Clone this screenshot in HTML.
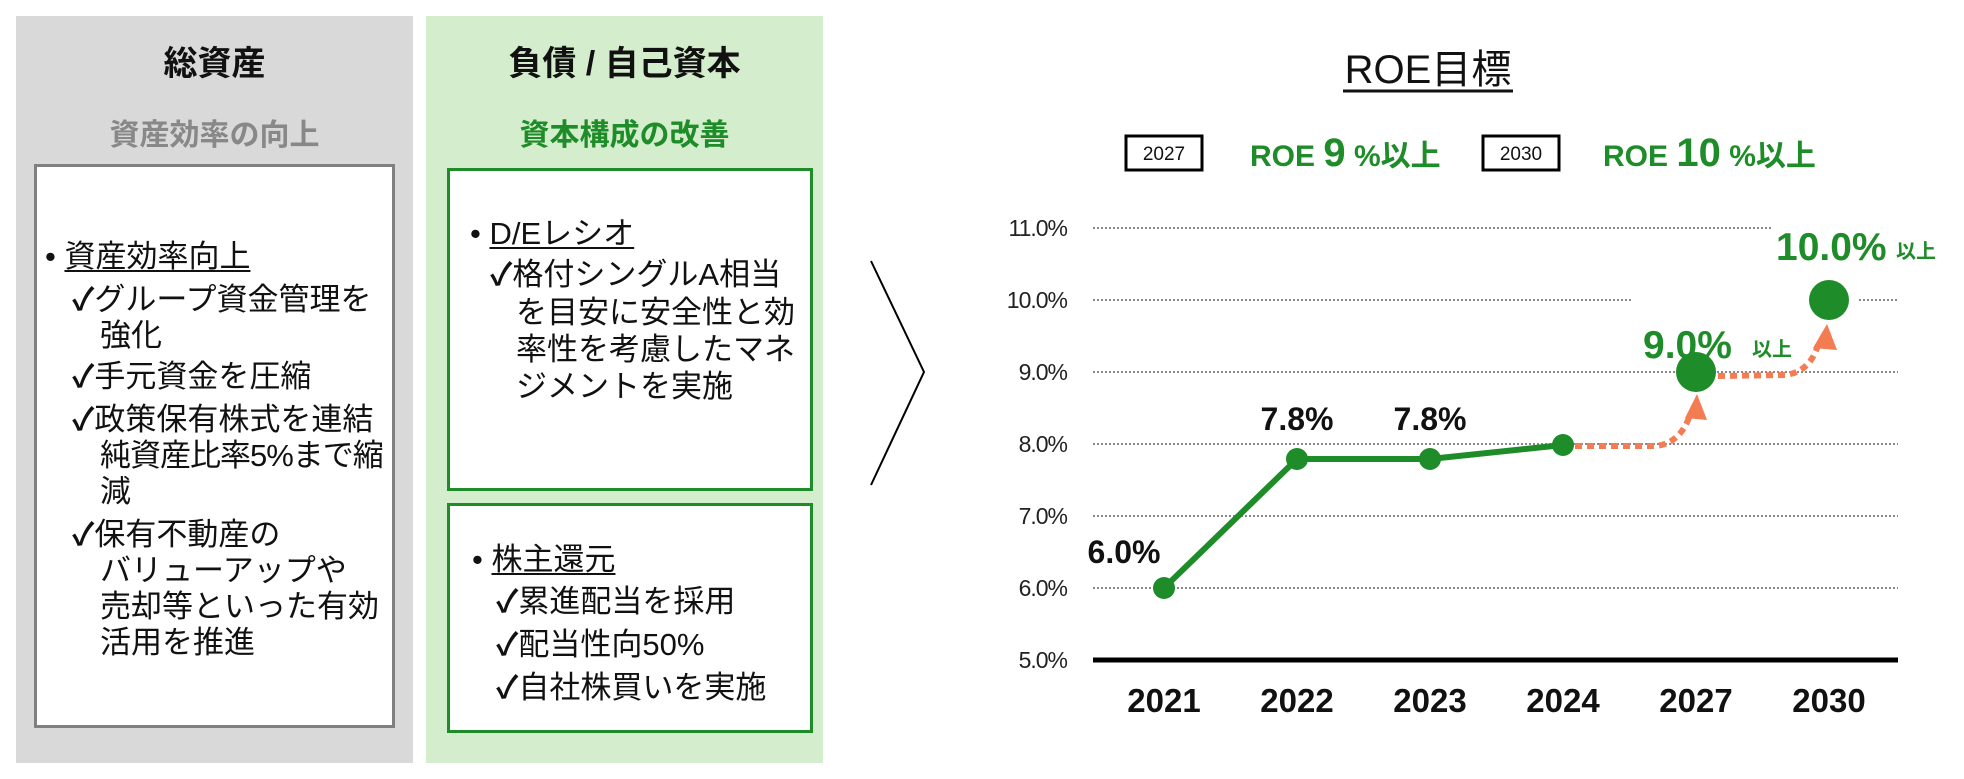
<!DOCTYPE html>
<html><head><meta charset="utf-8">
<style>
body{margin:0;width:1964px;height:779px;background:#fff;position:relative;overflow:hidden;font-family:"Liberation Sans","Noto Sans CJK JP",sans-serif;}
.a{position:absolute;white-space:nowrap;}
.t{font-size:31px;line-height:36px;color:#111;}
u{text-decoration:underline;text-underline-offset:3px;text-decoration-thickness:2px;}
.ck{font-weight:bold;}
</style></head><body>
<div class="a" style="left:16px;top:16px;width:397px;height:747px;background:#d9d9d9"></div>
<div class="a" style="left:426px;top:16px;width:397px;height:747px;background:#d4edcc"></div>
<div class="a" style="left:16px;top:36px;width:397px;text-align:center;font-size:34px;font-weight:bold;color:#111">総資産</div>
<div class="a" style="left:16px;top:110px;width:397px;text-align:center;font-size:30px;font-weight:bold;color:#888">資産効率の向上</div>
<div class="a" style="left:426px;top:36px;width:397px;text-align:center;font-size:34px;font-weight:bold;color:#111">負債 / 自己資本</div>
<div class="a" style="left:426px;top:110px;width:397px;text-align:center;font-size:30px;font-weight:bold;color:#1e8c28">資本構成の改善</div>
<div class="a" style="left:34px;top:164px;width:355px;height:558px;background:#fff;border:3px solid #808080"></div>
<div class="a" style="left:447px;top:168px;width:360px;height:317px;background:#fff;border:3px solid #1e8c28"></div>
<div class="a" style="left:447px;top:503px;width:360px;height:224px;background:#fff;border:3px solid #1e8c28"></div>

<div class="a t" style="left:45px;top:239px">• <u>資産効率向上</u></div>
<div class="a t" style="left:72px;top:282px"><span class="ck">✓</span>グループ資金管理を</div>
<div class="a t" style="left:100px;top:318px">強化</div>
<div class="a t" style="left:72px;top:359px"><span class="ck">✓</span>手元資金を圧縮</div>
<div class="a t" style="left:72px;top:402px"><span class="ck">✓</span>政策保有株式を連結</div>
<div class="a t" style="left:100px;top:438px;letter-spacing:-1px">純資産比率5%まで縮</div>
<div class="a t" style="left:100px;top:474px">減</div>
<div class="a t" style="left:72px;top:517px"><span class="ck">✓</span>保有不動産の</div>
<div class="a t" style="left:100px;top:553px">バリューアップや<br>売却等といった有効<br>活用を推進</div>

<div class="a t" style="left:470px;top:216px">• <u>D/Eレシオ</u></div>
<div class="a t" style="left:490px;top:257px"><span class="ck">✓</span>格付シングルA相当</div>
<div class="a t" style="left:516px;top:294px;line-height:37px">を目安に安全性と効<br>率性を考慮したマネ<br>ジメントを実施</div>

<div class="a t" style="left:472px;top:542px">• <u>株主還元</u></div>
<div class="a t" style="left:496px;top:584px"><span class="ck">✓</span>累進配当を採用</div>
<div class="a t" style="left:496px;top:627px"><span class="ck">✓</span>配当性向50%</div>
<div class="a t" style="left:496px;top:670px"><span class="ck">✓</span>自社株買いを実施</div>

<svg class="a" style="left:0;top:0" width="1964" height="779">
<polyline points="871,261 924,372 871,485" fill="none" stroke="#000" stroke-width="2"/>
<g font-family="Liberation Sans, sans-serif" font-size="23" fill="#222" text-anchor="end" letter-spacing="-1">
<text x="1067" y="236">11.0%</text><text x="1067" y="308">10.0%</text><text x="1067" y="380">9.0%</text>
<text x="1067" y="452">8.0%</text><text x="1067" y="524">7.0%</text><text x="1067" y="596">6.0%</text><text x="1067" y="668">5.0%</text>
</g>
<g stroke="#888" stroke-width="2" stroke-dasharray="2 2">
<line x1="1093" y1="228" x2="1771" y2="228"/>
<line x1="1093" y1="300" x2="1633" y2="300"/><line x1="1859" y1="300" x2="1898" y2="300"/>
<line x1="1093" y1="372" x2="1898" y2="372"/>
<line x1="1093" y1="444" x2="1898" y2="444"/>
<line x1="1093" y1="516" x2="1898" y2="516"/>
<line x1="1093" y1="588" x2="1898" y2="588"/>
</g>
<line x1="1093" y1="660" x2="1898" y2="660" stroke="#000" stroke-width="5"/>
<g font-family="Liberation Sans, sans-serif" font-size="33" font-weight="bold" fill="#111" text-anchor="middle">
<text x="1164" y="712">2021</text><text x="1297" y="712">2022</text><text x="1430" y="712">2023</text>
<text x="1563" y="712">2024</text><text x="1696" y="712">2027</text><text x="1829" y="712">2030</text>
</g>
<g font-family="Liberation Sans, sans-serif" font-size="32" font-weight="bold" fill="#111" text-anchor="middle">
<text x="1124" y="563">6.0%</text><text x="1297" y="430">7.8%</text><text x="1430" y="430">7.8%</text>
</g>
<g fill="none" stroke="#f47c52" stroke-width="6" stroke-dasharray="7 5">
<path d="M1575,446 L1655,446 Q1680,444 1690,415"/>
<path d="M1718,376 L1785,375 Q1810,372 1818,345"/>
</g>
<polygon points="1685,418 1697,394 1707,420" fill="#f47c52"/>
<polygon points="1813,348 1827,324 1837,350" fill="#f47c52"/>
<polyline points="1164,588 1297,459 1430,459 1563,445" fill="none" stroke="#1e8c28" stroke-width="6"/>
<g fill="#1e8c28">
<circle cx="1164" cy="588" r="11"/><circle cx="1297" cy="459" r="11"/><circle cx="1430" cy="459" r="11"/><circle cx="1563" cy="445" r="11"/>
<circle cx="1696" cy="372" r="20"/><circle cx="1829" cy="300" r="20"/>
</g>
<g font-family="Liberation Sans, sans-serif" font-weight="bold" fill="#1e8c28">
<text x="1643" y="358" font-size="39">9.0%</text><text x="1752" y="356" font-size="20" font-family="Noto Sans CJK JP, sans-serif">以上</text>
<text x="1776" y="260" font-size="39">10.0%</text><text x="1896" y="258" font-size="20" font-family="Noto Sans CJK JP, sans-serif">以上</text>
</g>
<text x="1428" y="83" text-anchor="middle" font-family="Liberation Sans, Noto Sans CJK JP, sans-serif" font-size="40" fill="#111">ROE目標</text>
<line x1="1343" y1="91" x2="1513" y2="91" stroke="#111" stroke-width="3"/>
<rect x="1126" y="136" width="76" height="34" fill="#fff" stroke="#000" stroke-width="3"/>
<text x="1164" y="160" text-anchor="middle" font-family="Liberation Sans, sans-serif" font-size="19" fill="#111">2027</text>
<rect x="1483" y="136" width="76" height="34" fill="#fff" stroke="#000" stroke-width="3"/>
<text x="1521" y="160" text-anchor="middle" font-family="Liberation Sans, sans-serif" font-size="19" fill="#111">2030</text>
<g font-family="Liberation Sans, Noto Sans CJK JP, sans-serif" font-weight="bold" fill="#1e8c28">
<text x="1250" y="166" font-size="30">ROE <tspan font-size="40">9</tspan> %以上</text>
<text x="1603" y="166" font-size="30">ROE <tspan font-size="40">10</tspan> %以上</text>
</g>
</svg>
</body></html>
